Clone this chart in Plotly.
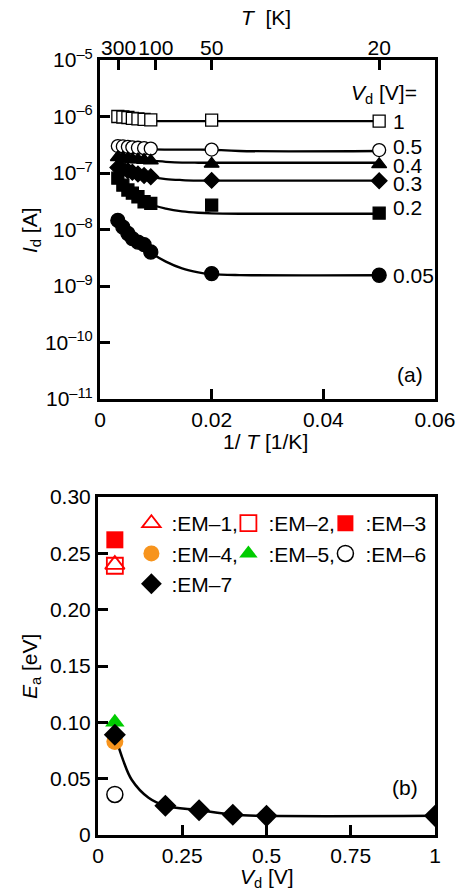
import plotly.graph_objects as go

FONT = "Liberation Sans, Arial, Helvetica, sans-serif"
FS = 21

# ---------------- Panel (a): I_d vs 1/T ----------------
inv_T = [0.0032, 0.0041, 0.0050, 0.0058, 0.0068, 0.0079, 0.0091, 0.0200, 0.0500]
Id_1 = [1.0e-6, 9.8e-7, 9.6e-7, 9.3e-7, 9.1e-7, 8.9e-7, 8.7e-7, 8.6e-7, 8.3e-7]
Id_05 = [3.0e-7, 2.95e-7, 2.9e-7, 2.85e-7, 2.8e-7, 2.75e-7, 2.7e-7, 2.6e-7, 2.55e-7]
Id_04 = [1.9e-7, 1.85e-7, 1.8e-7, 1.75e-7, 1.72e-7, 1.7e-7, 1.65e-7, 1.45e-7, 1.42e-7]
Id_03 = [1.25e-7, 1.18e-7, 1.1e-7, 1.03e-7, 9.6e-8, 9.0e-8, 8.6e-8, 7.4e-8, 7.3e-8]
Id_02 = [8.1e-8, 6.1e-8, 5.0e-8, 4.4e-8, 3.8e-8, 3.1e-8, 2.9e-8, 2.7e-8, 1.95e-8]
Id_005 = [1.45e-8, 1.1e-8, 8.5e-9, 6.9e-9, 6.0e-9, 5.4e-9, 4.0e-9, 1.66e-9, 1.55e-9]

# fitted curves
fit_x = [0.0032, 0.0050, 0.0068, 0.0091, 0.0118, 0.0147, 0.0176, 0.0200, 0.0250, 0.0500]
fit_1 = [9.8e-7, 9.2e-7, 8.8e-7, 8.4e-7, 8.3e-7, 8.3e-7, 8.3e-7, 8.3e-7, 8.3e-7, 8.3e-7]
fit_05 = [3.0e-7, 2.9e-7, 2.8e-7, 2.65e-7, 2.6e-7, 2.6e-7, 2.6e-7, 2.58e-7, 2.45e-7, 2.45e-7]
fit_04 = [1.9e-7, 1.8e-7, 1.7e-7, 1.65e-7, 1.58e-7, 1.53e-7, 1.52e-7, 1.52e-7, 1.52e-7, 1.52e-7]
fit_03 = [1.25e-7, 1.1e-7, 9.5e-8, 8.5e-8, 7.8e-8, 7.5e-8, 7.35e-8, 7.3e-8, 7.3e-8, 7.3e-8]
fit_02 = [7.5e-8, 5.0e-8, 3.8e-8, 2.8e-8, 2.35e-8, 2.1e-8, 1.98e-8, 1.93e-8, 1.9e-8, 1.9e-8]
fit_005 = [1.45e-8, 8.5e-9, 6.0e-9, 3.9e-9, 2.7e-9, 2.05e-9, 1.75e-9, 1.62e-9, 1.56e-9, 1.55e-9]

Vd_labels = ["1", "0.5", "0.4", "0.3", "0.2", "0.05"]

T_ticks = [300, 100, 50, 20]
y_a_ticks = [1e-11, 1e-10, 1e-9, 1e-8, 1e-7, 1e-6, 1e-5]
y_a_text = ["10<sup>–11</sup>", "10<sup>–10</sup>", "10<sup>–9</sup>", "10<sup>–8</sup>",
            "10<sup>–7</sup>", "10<sup>–6</sup>", "10<sup>–5</sup>"]
x_a_ticks = [0, 0.02, 0.04, 0.06]
x_a_text = ["0", "0.02", "0.04", "0.06"]

# ---------------- Panel (b): E_a vs V_d ----------------
em_names = [":EM–1,", ":EM–2,", ":EM–3", ":EM–4,", ":EM–5,", ":EM–6", ":EM–7"]
em_V = [0.05, 0.05, 0.05, 0.05, 0.05, 0.05]
em_Ea = [0.240, 0.239, 0.262, 0.083, 0.100, 0.036]
em7_V = [0.05, 0.2, 0.3, 0.4, 0.5, 1.0]
em7_Ea = [0.089, 0.026, 0.022, 0.018, 0.017, 0.017]
em7_fit_V = [0.05, 0.075, 0.1, 0.15, 0.2, 0.3, 0.4, 0.5, 1.0]
em7_fit_Ea = [0.089, 0.066, 0.049, 0.033, 0.026, 0.022, 0.018, 0.017, 0.017]

y_b_ticks = [0, 0.05, 0.10, 0.15, 0.20, 0.25, 0.30]
y_b_text = ["0", "0.05", "0.10", "0.15", "0.20", "0.25", "0.30"]
x_b_ticks = [0, 0.25, 0.5, 0.75, 1.0]
x_b_text = ["0", "0.25", "0.5", "0.75", "1"]

# ---------------- Layout geometry ----------------
W, H = 467, 895
L, R, T, B = 98, 27, 60, 60
PW, PH = W - L - R, H - T - B


def px_x(px):
    return (px - L) / PW


def px_y(py):
    return (H - B - py) / PH


fig = go.Figure()

a_series = [
    (Id_1, fit_1, "square", 12, "white"),
    (Id_05, fit_05, "circle", 13, "white"),
    (Id_04, fit_04, "triangle-up", 13, "black"),
    (Id_03, fit_03, "diamond", 12, "black"),
    (Id_02, fit_02, "square", 12, "black"),
    (Id_005, fit_005, "circle", 14, "black"),
]
for vals, fit, sym, sz, fill in a_series:
    fig.add_trace(go.Scatter(x=fit_x, y=fit, mode="lines", line=dict(color="black", width=2.3, shape="spline"),
                             xaxis="x", yaxis="y", showlegend=False, hoverinfo="skip"))
for vals, fit, sym, sz, fill in a_series:
    fig.add_trace(go.Scatter(x=inv_T, y=vals, mode="markers",
                             marker=dict(symbol=sym, size=sz, color=fill,
                                         line=dict(color="black", width=1.3)),
                             xaxis="x", yaxis="y", showlegend=False))
# top T axis carrier
fig.add_trace(go.Scatter(x=[1 / t for t in T_ticks], y=[1e-20] * len(T_ticks), mode="markers",
                         marker=dict(opacity=0), xaxis="x2", yaxis="y", showlegend=False, hoverinfo="skip"))

# panel (b)
em_styles = [
    dict(symbol="triangle-up", color="rgba(0,0,0,0)", line=dict(color="#ff0000", width=1.8), size=17),
    dict(symbol="square", color="rgba(0,0,0,0)", line=dict(color="#ff0000", width=1.8), size=16),
    dict(symbol="square", color="#ff0000", line=dict(color="#ff0000", width=0), size=17),
    dict(symbol="circle", color="#f7941d", line=dict(color="#f7941d", width=0), size=17),
    dict(symbol="triangle-up", color="#00cc00", line=dict(color="#00cc00", width=0), size=17),
    dict(symbol="circle", color="white", line=dict(color="black", width=1.5), size=16),
]
order = [1, 0, 2, 3, 4, 5]
traces_b = []
for i in range(6):
    traces_b.append(go.Scatter(x=[em_V[i]], y=[em_Ea[i]], mode="markers", name=em_names[i],
                               marker=em_styles[i], xaxis="x3", yaxis="y3", legendrank=i + 1))
fig.add_trace(go.Scatter(x=em7_fit_V, y=em7_fit_Ea, mode="lines", line=dict(color="black", width=2.5, shape="spline"),
                         xaxis="x3", yaxis="y3", showlegend=False, hoverinfo="skip"))
for i in order:
    fig.add_trace(traces_b[i])
fig.add_trace(go.Scatter(x=em7_V, y=em7_Ea, mode="markers", name=em_names[6],
                         marker=dict(symbol="diamond", color="black", size=17, line=dict(width=0)),
                         xaxis="x3", yaxis="y3", legendrank=7))

axis_common = dict(showline=True, linecolor="black", linewidth=3, mirror=True,
                   ticks="inside", ticklen=10, tickwidth=3, tickcolor="black",
                   showgrid=False, zeroline=False, tickfont=dict(family=FONT, size=FS, color="black"))

dom_a = [px_y(399), 1.0]
dom_b = [0.0, px_y(497)]

fig.update_layout(
    width=W, height=H, margin=dict(l=L, r=R, t=T, b=B),
    paper_bgcolor="white", plot_bgcolor="white",
    font=dict(family=FONT, size=FS, color="black"),
    xaxis=dict(axis_common, domain=[px_x(100), 1.0], anchor="y", range=[0, 0.06],
               tickvals=x_a_ticks, ticktext=x_a_text),
    xaxis2=dict(domain=[px_x(100), 1.0], anchor="y", overlaying="x", side="top", range=[0, 0.06],
                tickvals=[1 / t for t in T_ticks], ticktext=[str(t) for t in T_ticks],
                showline=False, ticks="inside", ticklen=10, tickwidth=3, tickcolor="black",
                showgrid=False, zeroline=False, tickfont=dict(family=FONT, size=FS, color="black")),
    yaxis=dict(axis_common, domain=dom_a, anchor="x", type="log", range=[-11, -5],
               tickvals=y_a_ticks, ticktext=y_a_text),
    xaxis3=dict(axis_common, domain=[0, 1.0], anchor="y3", range=[0, 1.0],
                tickvals=x_b_ticks, ticktext=x_b_text),
    yaxis3=dict(axis_common, domain=dom_b, anchor="x3", range=[0, 0.30],
                tickvals=y_b_ticks, ticktext=y_b_text),
    legend=dict(orientation="h", x=px_x(139), y=px_y(503), xanchor="left", yanchor="top",
                bgcolor="rgba(0,0,0,0)", font=dict(family=FONT, size=FS, color="black"),
                indentation=-7, entrywidth=59, entrywidthmode="pixels",
                itemclick=False, tracegroupgap=0),
)

ann = []
def add_ann(text, x, y, xanchor="center", angle=0, xref="paper", yref="paper"):
    ann.append(dict(text=text, x=x, y=y, xref=xref, yref=yref, xanchor=xanchor, yanchor="middle",
                    showarrow=False, textangle=angle, font=dict(family=FONT, size=FS, color="black")))

add_ann("<i>T</i>  [K]", px_x(268), px_y(17))
add_ann("1/ <i>T</i> [1/K]", px_x(268), px_y(441))
add_ann("<i>V</i><sub>d</sub> [V]", px_x(270), px_y(878))
add_ann("<i>I</i><sub>d</sub> [A]", px_x(30), px_y(230), angle=-90)
add_ann("<i>E</i><sub>a</sub> [eV]", px_x(30), px_y(666), angle=-90)
add_ann("(a)", px_x(415), px_y(374))
add_ann("(b)", px_x(410), px_y(787))
add_ann("<i>V</i><sub>d</sub> [V]=", px_x(353), px_y(94), xanchor="left")
label_y_px = [121, 146, 166, 183, 208, 275]
for lab, py in zip(Vd_labels, label_y_px):
    add_ann(lab, px_x(395), px_y(py), xanchor="left")
fig.update_layout(annotations=ann)

fig.write_html("out.html")
